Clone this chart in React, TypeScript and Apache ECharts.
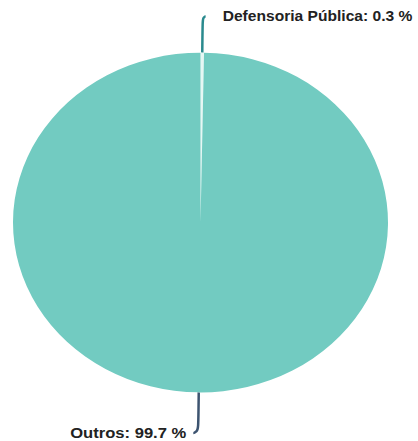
import React, { useEffect, useRef } from "react";
import * as echarts from "echarts";

const categories = ["Defensoria Pública", "Outros"];
const values = [0.3, 99.7];
const sliceColors = ["#e6f7f4", "#72cbc1"];
const lineColors = ["#2a8a8e", "#3d5470"];
const lineLengths = [40, 45];
const lineLengths2 = [3, 5];
const labelGaps = [17, 7];
const labelSizes = [15.6, 16.6];

const SQUASH = 0.906;

export default function App() {
  const ref = useRef<HTMLDivElement>(null);
  useEffect(() => {
    if (!ref.current) return;
    const chart = echarts.init(ref.current, null, { renderer: "svg" });
    chart.setOption({
      animation: false,
      backgroundColor: "#ffffff",
      series: [
        {
          type: "pie",
          center: [200.5, 222.5 / SQUASH],
          radius: 187.5,
          startAngle: 90,
          clockwise: true,
          avoidLabelOverlap: false,
          silent: true,
          itemStyle: { borderWidth: 0 },
          label: {
            show: true,
            formatter: (p: any) => `${p.name}: ${p.value} %`,
            fontFamily: "Liberation Sans, Arial, sans-serif",
            fontWeight: "bold",
            fontSize: 15.5,
            color: "#222222",
          },
          data: categories.map((name, i) => ({
            name,
            value: values[i],
            itemStyle: { color: sliceColors[i] },
            label: { distanceToLabelLine: labelGaps[i], fontSize: labelSizes[i] },
            labelLine: {
              show: true,
              length: lineLengths[i],
              length2: lineLengths2[i],
              smooth: 0.8,
              lineStyle: { color: lineColors[i], width: 2.5 },
            },
          })),
        },
      ],
    });
    return () => chart.dispose();
  }, []);
  return (
    <div
      style={{
        position: "absolute",
        left: 0,
        top: 0,
        width: 418,
        height: 441,
        overflow: "hidden",
        background: "#fff",
      }}
    >
      <div
        ref={ref}
        style={{
          width: 418,
          height: Math.round(441 / SQUASH),
          transform: `scaleY(${SQUASH})`,
          transformOrigin: "top left",
        }}
      />
    </div>
  );
}
